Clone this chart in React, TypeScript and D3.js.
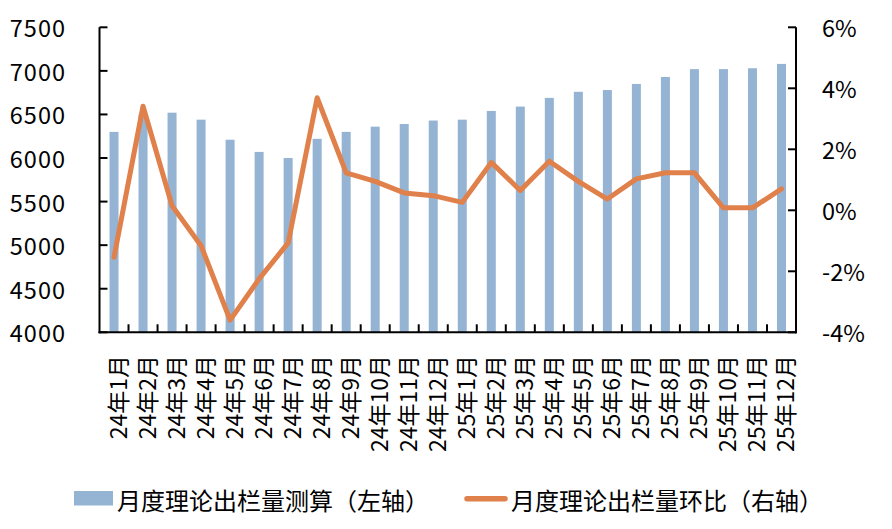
import React from "react";
import * as d3 from "d3";

const categories = [
  "24年1月", "24年2月", "24年3月", "24年4月", "24年5月", "24年6月",
  "24年7月", "24年8月", "24年9月", "24年10月", "24年11月", "24年12月",
  "25年1月", "25年2月", "25年3月", "25年4月", "25年5月", "25年6月",
  "25年7月", "25年8月", "25年9月", "25年10月", "25年11月", "25年12月",
];
const outputValues = [
  6300, 6500, 6520, 6440, 6210, 6070, 6000, 6220, 6300, 6360, 6390, 6430,
  6440, 6540, 6590, 6690, 6760, 6780, 6850, 6930, 7020, 7020, 7030, 7080,
];
const momValues = [
  -1.54, 3.41, 0.15, -1.16, -3.6, -2.25, -1.07, 3.69, 1.23, 0.95, 0.57, 0.48,
  0.26, 1.57, 0.65, 1.61, 0.95, 0.37, 1.03, 1.23, 1.23, 0.08, 0.08, 0.7,
];
const leftTicks = [4000, 4500, 5000, 5500, 6000, 6500, 7000, 7500];
const rightTicks = [-4, -2, 0, 2, 4, 6];
const legendBar = "月度理论出栏量测算（左轴）";
const legendLine = "月度理论出栏量环比（右轴）";

const W = 892;
const H = 529;
const left = 99.5;
const right = 796;
const top = 27.3;
const bottom = 332.3;
const BAR = "#95B3D3";
const LINE = "#E0804A";
const FONT = "'Noto Sans CJK SC', 'Open Sans', sans-serif";

export default function App() {
  const x = d3.scaleBand<string>().domain(categories).range([left, right]).padding(0);
  const yL = d3.scaleLinear().domain([4000, 7500]).range([bottom, top]);
  const yR = d3.scaleLinear().domain([-4, 6]).range([bottom, top]);
  const bw = x.bandwidth() * 0.31;
  const cx = (c: string) => (x(c) as number) + x.bandwidth() / 2;
  const line = d3
    .line<number>()
    .x((_, i) => cx(categories[i]))
    .y((d) => yR(d));

  return (
    <svg
      width={W}
      height={H}
      style={{ position: "absolute", left: 0, top: 0, background: "#fff" }}
      fontFamily={FONT}
    >
      <rect x={0} y={0} width={W} height={H} fill="#fff" />
      {categories.map((c, i) => (
        <rect
          key={c}
          x={cx(c) - bw / 2}
          y={yL(outputValues[i])}
          width={bw}
          height={bottom - yL(outputValues[i])}
          fill={BAR}
        />
      ))}
      <path
        d={line(momValues) || ""}
        fill="none"
        stroke={LINE}
        strokeWidth={5}
        strokeLinejoin="round"
        strokeLinecap="round"
      />
      <g stroke="#000" strokeWidth={2} fill="none">
        <line x1={left} x2={left} y1={top} y2={bottom + 1} />
        <line x1={right} x2={right} y1={top} y2={bottom + 1} />
        <line x1={left - 1} x2={right + 1} y1={bottom} y2={bottom} />
        {leftTicks.map((t) => (
          <line key={"l" + t} x1={left} x2={left + 8} y1={yL(t)} y2={yL(t)} />
        ))}
        {rightTicks.map((t) => (
          <line key={"r" + t} x1={right - 8} x2={right} y1={yR(t)} y2={yR(t)} />
        ))}
        {categories.map((c) => (
          <line
            key={"t" + c}
            x1={(x(c) as number) + x.bandwidth()}
            x2={(x(c) as number) + x.bandwidth()}
            y1={bottom - 8}
            y2={bottom}
          />
        ))}
      </g>
      {leftTicks.map((t) => (
        <text
          key={"lt" + t}
          x={66}
          y={yL(t)}
          textAnchor="end"
          dominantBaseline="central"
          fontSize={23.5}
          letterSpacing={1}
          fill="#000"
        >
          {t}
        </text>
      ))}
      {rightTicks.map((t) => (
        <text
          key={"rt" + t}
          x={822}
          y={yR(t)}
          textAnchor="start"
          dominantBaseline="central"
          fontSize={23.5}
          fill="#000"
        >
          {t + "%"}
        </text>
      ))}
      {categories.map((c) => (
        <text
          key={"xl" + c}
          transform={`translate(${cx(c) + 3},355) rotate(-90)`}
          textAnchor="end"
          dominantBaseline="central"
          fontSize={23}
          fill="#000"
        >
          {c}
        </text>
      ))}
      <rect x={74} y={491} width={39} height={14.5} fill={BAR} />
      <text x={117} y={499} dominantBaseline="central" fontSize={24} fill="#000">
        {legendBar}
      </text>
      <line x1={467} x2={505} y1={498.7} y2={498.7} stroke={LINE} strokeWidth={5.5} strokeLinecap="round" />
      <text x={511} y={499} dominantBaseline="central" fontSize={24} fill="#000">
        {legendLine}
      </text>
    </svg>
  );
}
